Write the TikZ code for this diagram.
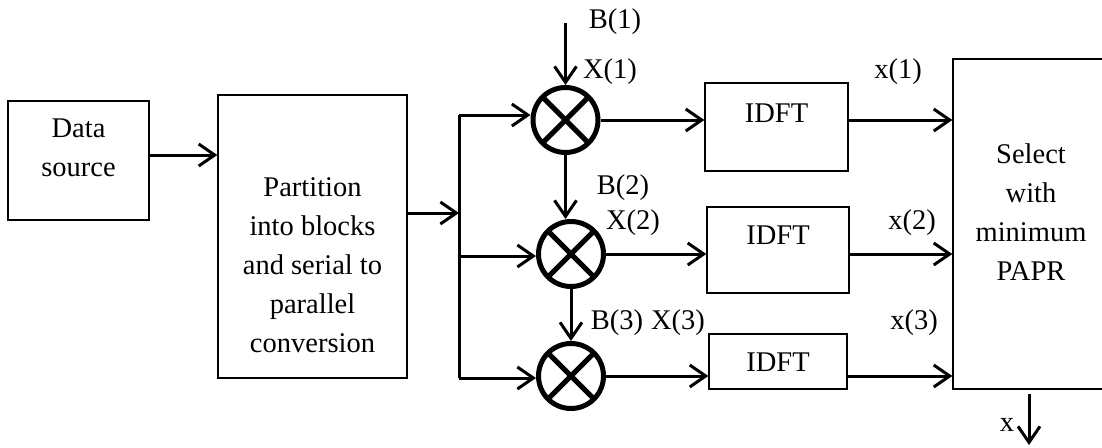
\documentclass[tikz,border=0pt]{standalone}
\usepackage{fontspec}
\setmainfont{Liberation Serif}
\usetikzlibrary{arrows.meta,calc}

\tikzset{
	blk/.style={draw, line width=1.3pt, inner sep=0pt},
	txt/.style={align=center, inner sep=0pt, font=\fontsize{28.5}{39}\selectfont},
	arr/.style={line width=3pt, -{Straight Barb[length=16pt,width=22pt,line width=3pt]}},
	conn/.style={line width=3pt},
	mul/.style={circle, draw, line width=5pt, minimum size=65pt, inner sep=0pt,
		path picture={\draw[line width=5pt] (path picture bounding box.center)
			+(45:33pt) -- +(225:33pt) +(135:33pt) -- +(315:33pt);}}
}

\begin{document}
\begin{tikzpicture}[x=1pt,y=-1pt]
			%%%%% START %%%%%
			\useasboundingbox (0,0) rectangle (1102,447);
			
			% blocks
			\node[blk, minimum width=141pt, minimum height=119pt] (src) at (78.5,160.5) {};
			\node[txt] (srct) at (78.5,148) {Data\\source};
			
			\node[blk, minimum width=189pt, minimum height=283pt] (part) at (312.5,236.5) {};
			\node[txt] (partt) at (312.5,265) {Partition\\into blocks\\and serial to\\parallel\\conversion};
			
			\node[blk, minimum width=143pt, minimum height=88pt] (idft1) at (776.5,127) {};
			\node[txt] (idftt1) at (776.5,113) {IDFT};
			\node[blk, minimum width=142pt, minimum height=86pt] (idft2) at (778,250) {};
			\node[txt] (idftt2) at (778,235) {IDFT};
			\node[blk, minimum width=138pt, minimum height=55pt] (idft3) at (778,361.5) {};
			\node[txt] (idftt3) at (778,362) {IDFT};
			
			\node[blk, minimum width=157pt, minimum height=330pt] (sel) at (1031.5,224) {};
			\node[txt] (selt) at (1031,212) {Select\\with\\minimum\\PAPR};
			
			% multipliers
			\node[mul] (mul1) at (565.5,120) {};
			\node[mul] (mul2) at (571,254) {};
			\node[mul] (mul3) at (571,376) {};
			
			% feed lines
			\coordinate (b1) at (565.5,23);
			\coordinate (bin) at (459,213);
			\coordinate (bt) at (459,115);
			\coordinate (bm) at (459,256);
			\coordinate (bb) at (459,378);
			\coordinate (xo) at (1029,445);
			
			\draw[arr] ([yshift=5.5pt]src.east) -- ([yshift=5.5pt]src.east -| part.west);
			\draw[arr] (part.east |- bin) -- (bin);
			\draw[conn] (bt) -- (bb);
			\draw[arr] (bt) -- (bt -| mul1.west);
			\draw[arr] (bm) -- (bm -| mul2.west);
			\draw[arr] (bb) -- (bb -| mul3.west);
			
			\draw[arr] (b1) -- (mul1.north);
			\draw[arr] (mul1.south) -- (mul1.south |- mul2.north);
			\draw[arr] (mul2.south) -- (mul3.north);
			
			\draw[arr] (mul1.east) -- (mul1.east -| idft1.west);
			\draw[arr] (mul2.east) -- (mul2.east -| idft2.west);
			\draw[arr] (mul3.east) -- (mul3.east -| idft3.west);
			
			\draw[arr] (mul1.east -| idft1.east) -- (mul1.east -| sel.west);
			\draw[arr] (mul2.east -| idft2.east) -- (mul2.east -| sel.west);
			\draw[arr] (mul3.east -| idft3.east) -- (mul3.east -| sel.west);
			
			\draw[arr] ([yshift=-4pt]sel.south -| xo) -- (xo);
			
			% labels
			\node[txt] (lb1) at (615,22) {B(1)};
			\node[txt] (lX1) at (610,72) {X(1)};
			\node[txt] (lb2) at (623,188) {B(2)};
			\node[txt] (lX2) at (633,223) {X(2)};
			\node[txt] (lb3) at (617,323) {B(3)};
			\node[txt] (lX3) at (678,323) {X(3)};
			\node[txt] (lx1) at (898,72) {x(1)};
			\node[txt] (lx2) at (912,223) {x(2)};
			\node[txt] (lx3) at (914,323) {x(3)};
			\node[txt] (lx) at (1007,425) {x};
			
			%%%%% END %%%%%
\end{tikzpicture}
\end{document}
